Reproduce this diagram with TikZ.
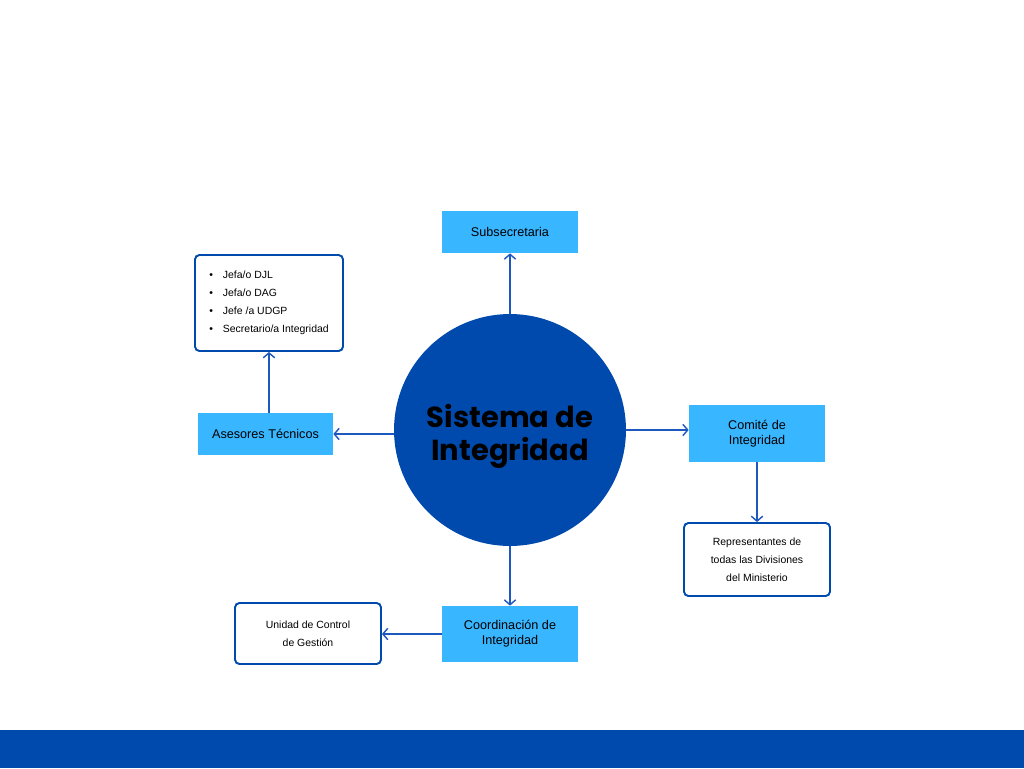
\documentclass[tikz,border=0pt]{standalone}
\usepackage{fontspec}
\setmainfont{Liberation Sans}
\newfontfamily\titlefont{Poppins}
\usepackage{xcolor}
\definecolor{darkblue}{RGB}{0,74,173}
\definecolor{lightblue}{RGB}{56,182,255}
\definecolor{lineblue}{RGB}{28,88,190}
\usetikzlibrary{positioning, calc, arrows.meta}
\tikzstyle{Box} = [
fill=lightblue,
inner sep=0pt,
align=center,
font=\fontsize{7.2}{8.6}\selectfont]
\tikzstyle{Frame} = [
draw=darkblue,
line width=1.1pt,
rounded corners=2.5pt,
fill=white,
inner sep=0pt,
font=\fontsize{5.95}{10.3}\selectfont]
\tikzstyle{Arrow} = [
draw=lineblue,
line width=0.8pt,
-{Straight Barb[length=2.8pt, width=6.5pt]}]

\begin{document}
\begin{tikzpicture}[x=0.02cm, y=-0.02cm]
    \useasboundingbox (0,0) rectangle (1024,768);
    \fill[darkblue] (0,730) rectangle (1024,768);

    \node [circle, fill=darkblue, minimum size=4.64cm, inner sep=0pt] (1) at (510,430) {};
    \node [align=center, font=\titlefont\bfseries\fontsize{16.5}{18.8}\selectfont]
        (1t) at ($(1.center)+(0,6)$) {Sistema de\\Integridad};
    \node [Box, minimum width=2.72cm, minimum height=0.84cm] (2) at (510,232) {Subsecretaria};
    \node [Box, minimum width=2.70cm, minimum height=0.84cm] (3) at (265.5,434) {Asesores T\'ecnicos};
    \node [Frame, minimum width=2.96cm, minimum height=1.92cm, align=left] (4) at (269,303)
        {\textbullet\hspace{0.2cm}Jefa/o DJL\\
         \textbullet\hspace{0.2cm}Jefa/o DAG\\
         \textbullet\hspace{0.2cm}Jefe /a UDGP\\
         \textbullet\hspace{0.2cm}Secretario/a Integridad};
    \node [Box, minimum width=2.72cm, minimum height=1.14cm] (5) at (757,433.5) {Comit\'e de\\Integridad};
    \node [Frame, minimum width=2.92cm, minimum height=1.46cm, align=center] (6) at (757,559.5)
        {Representantes de\\todas las Divisiones\\del Ministerio};
    \node [Box, minimum width=2.72cm, minimum height=1.12cm] (7) at (510,634) {Coordinaci\'on de\\Integridad};
    \node [Frame, minimum width=2.92cm, minimum height=1.22cm, align=center] (8) at (308,633.5)
        {Unidad de Control\\de Gesti\'on};

    \draw[Arrow] (1.north)--(2.south);
    \draw[Arrow] (3.east -| 1.west)--(3.east);
    \draw[Arrow] (3.north -| 4.south)--(4.south);
    \draw[Arrow] (1.east)--(1.east -| 5.west);
    \draw[Arrow] (5.south)--(6.north);
    \draw[Arrow] (1.south)--(7.north);
    \draw[Arrow] (7.west)--(7.west -| 8.east);
\end{tikzpicture}
\end{document}
